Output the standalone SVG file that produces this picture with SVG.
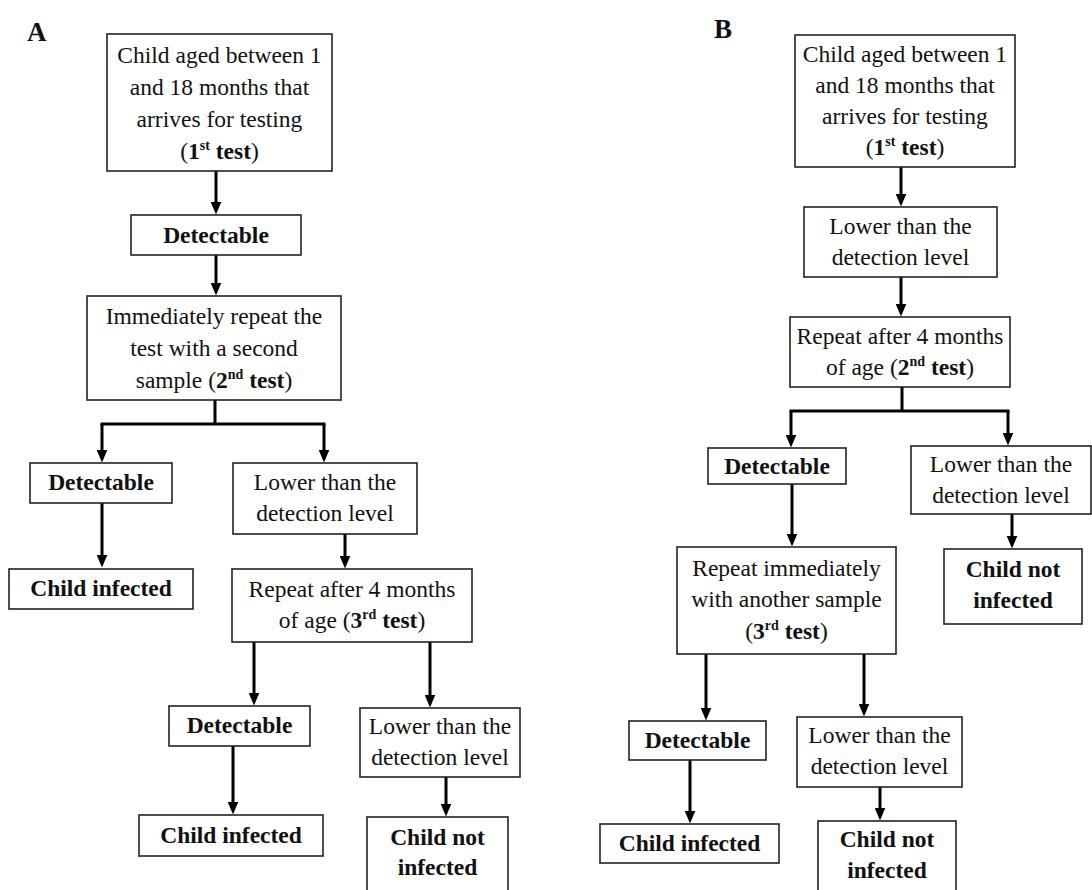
<svg xmlns="http://www.w3.org/2000/svg" width="1092" height="890" viewBox="0 0 1092 890">
<style>
  .box { fill: #fff; stroke: #222; stroke-width: 1.6; }
  text { font-family: "Liberation Serif", "Times New Roman", serif; font-size: 23.5px; fill: #111; text-anchor: middle; }
  .b { font-weight: bold; }
  .sup { font-size: 14px; font-weight: bold; }
  .lbl { font-size: 27px; font-weight: bold; text-anchor: start; }
  .c { fill: none; stroke: #000; stroke-width: 3; }
  .ca { fill: none; stroke: #000; stroke-width: 3; marker-end: url(#ah); }
</style>
<defs>
  <marker id="ah" viewBox="0 0 13 11" refX="6.5" refY="5.5" markerWidth="13" markerHeight="11" markerUnits="userSpaceOnUse" orient="auto">
    <path d="M0,0 L13,5.5 L0,11 z" fill="#000"/>
  </marker>
</defs>
<rect width="1092" height="890" fill="#fff"/>

<text class="lbl" x="27" y="41">A</text>
<text class="lbl" x="714" y="38">B</text>

<g id="connectors">
  <!-- A -->
  <path class="ca" d="M216,171 V208"/>
  <path class="ca" d="M216,255 V289"/>
  <path class="c" d="M215,400 V424"/>
  <path class="c" d="M102,424 H324" stroke-linecap="square"/>
  <path class="ca" d="M102,424 V456"/>
  <path class="ca" d="M324,424 V456"/>
  <path class="ca" d="M102,503 V561"/>
  <path class="ca" d="M345,534 V562"/>
  <path class="ca" d="M254,642 V699"/>
  <path class="ca" d="M430,642 V701"/>
  <path class="ca" d="M233,746 V808"/>
  <path class="ca" d="M446,777 V810"/>
  <!-- B -->
  <path class="ca" d="M901,167 V200"/>
  <path class="ca" d="M901,277 V310"/>
  <path class="c" d="M902,387 V411"/>
  <path class="c" d="M791,411 H1008" stroke-linecap="square"/>
  <path class="ca" d="M791,411 V441"/>
  <path class="ca" d="M1008,411 V439"/>
  <path class="ca" d="M792,484 V540"/>
  <path class="ca" d="M1012,514 V542"/>
  <path class="ca" d="M706,654 V714"/>
  <path class="ca" d="M864,654 V710"/>
  <path class="ca" d="M690,760 V817"/>
  <path class="ca" d="M880,787 V814"/>
</g>

<!-- Panel A nodes -->
<g id="a-start">
  <rect class="box" x="107" y="34" width="225" height="137"/>
  <text x="219.5" y="63">Child aged between 1</text>
  <text x="219.5" y="95">and 18 months that</text>
  <text x="219.5" y="127">arrives for testing</text>
  <text x="219.5" y="159">(<tspan class="b">1</tspan><tspan class="sup" dy="-9">st</tspan><tspan class="b" dy="9"> test</tspan>)</text>
</g>
<g id="a-detectable1">
  <rect class="box" x="131" y="215" width="170" height="40"/>
  <text class="b" x="216" y="243">Detectable</text>
</g>
<g id="a-repeat2">
  <rect class="box" x="87" y="296" width="254" height="104"/>
  <text x="214" y="324">Immediately repeat the</text>
  <text x="214" y="356">test with a second</text>
  <text x="214" y="388">sample (<tspan class="b">2</tspan><tspan class="sup" dy="-9">nd</tspan><tspan class="b" dy="9"> test</tspan>)</text>
</g>
<g id="a-detectable2">
  <rect class="box" x="30" y="463" width="142" height="40"/>
  <text class="b" x="101" y="490">Detectable</text>
</g>
<g id="a-lower1">
  <rect class="box" x="233" y="463" width="184" height="71"/>
  <text x="325" y="490">Lower than the</text>
  <text x="325" y="521">detection level</text>
</g>
<g id="a-infected1">
  <rect class="box" x="9" y="569" width="184" height="40"/>
  <text class="b" x="101" y="596">Child infected</text>
</g>
<g id="a-repeat3">
  <rect class="box" x="232" y="569" width="240" height="73"/>
  <text x="352" y="597">Repeat after 4 months</text>
  <text x="352" y="628">of age (<tspan class="b">3</tspan><tspan class="sup" dy="-9">rd</tspan><tspan class="b" dy="9"> test</tspan>)</text>
</g>
<g id="a-detectable3">
  <rect class="box" x="169" y="706" width="141" height="40"/>
  <text class="b" x="239.5" y="733">Detectable</text>
</g>
<g id="a-lower2">
  <rect class="box" x="360" y="708" width="160" height="69"/>
  <text x="440" y="734">Lower than the</text>
  <text x="440" y="765">detection level</text>
</g>
<g id="a-infected2">
  <rect class="box" x="139" y="815" width="184" height="41"/>
  <text class="b" x="231" y="843">Child infected</text>
</g>
<g id="a-notinfected">
  <rect class="box" x="367" y="817" width="141" height="80"/>
  <text class="b" x="437.5" y="845">Child not</text>
  <text class="b" x="437.5" y="875">infected</text>
</g>

<!-- Panel B nodes -->
<g id="b-start">
  <rect class="box" x="795" y="35" width="220" height="132"/>
  <text x="905" y="62">Child aged between 1</text>
  <text x="905" y="93">and 18 months that</text>
  <text x="905" y="124">arrives for testing</text>
  <text x="905" y="155">(<tspan class="b">1</tspan><tspan class="sup" dy="-9">st</tspan><tspan class="b" dy="9"> test</tspan>)</text>
</g>
<g id="b-lower1">
  <rect class="box" x="804" y="207" width="193" height="70"/>
  <text x="900.5" y="234">Lower than the</text>
  <text x="900.5" y="265">detection level</text>
</g>
<g id="b-repeat2">
  <rect class="box" x="790" y="317" width="220" height="70"/>
  <text x="900" y="344">Repeat after 4 months</text>
  <text x="900" y="375">of age (<tspan class="b">2</tspan><tspan class="sup" dy="-9">nd</tspan><tspan class="b" dy="9"> test</tspan>)</text>
</g>
<g id="b-detectable1">
  <rect class="box" x="708" y="448" width="138" height="36"/>
  <text class="b" x="777" y="474">Detectable</text>
</g>
<g id="b-lower2">
  <rect class="box" x="911" y="446" width="180" height="68"/>
  <text x="1001" y="472">Lower than the</text>
  <text x="1001" y="503">detection level</text>
</g>
<g id="b-notinfected1">
  <rect class="box" x="944" y="549" width="138" height="75"/>
  <text class="b" x="1013" y="577">Child not</text>
  <text class="b" x="1013" y="608">infected</text>
</g>
<g id="b-repeat3">
  <rect class="box" x="677" y="547" width="219" height="107"/>
  <text x="786.5" y="576">Repeat immediately</text>
  <text x="786.5" y="607">with another sample</text>
  <text x="786.5" y="639">(<tspan class="b">3</tspan><tspan class="sup" dy="-9">rd</tspan><tspan class="b" dy="9"> test</tspan>)</text>
</g>
<g id="b-detectable2">
  <rect class="box" x="629" y="721" width="137" height="39"/>
  <text class="b" x="697.5" y="748">Detectable</text>
</g>
<g id="b-lower3">
  <rect class="box" x="797" y="717" width="165" height="70"/>
  <text x="879.5" y="743">Lower than the</text>
  <text x="879.5" y="774">detection level</text>
</g>
<g id="b-infected">
  <rect class="box" x="600" y="824" width="179" height="39"/>
  <text class="b" x="689.5" y="851">Child infected</text>
</g>
<g id="b-notinfected2">
  <rect class="box" x="818" y="821" width="138" height="80"/>
  <text class="b" x="887" y="847">Child not</text>
  <text class="b" x="887" y="878">infected</text>
</g>
</svg>
